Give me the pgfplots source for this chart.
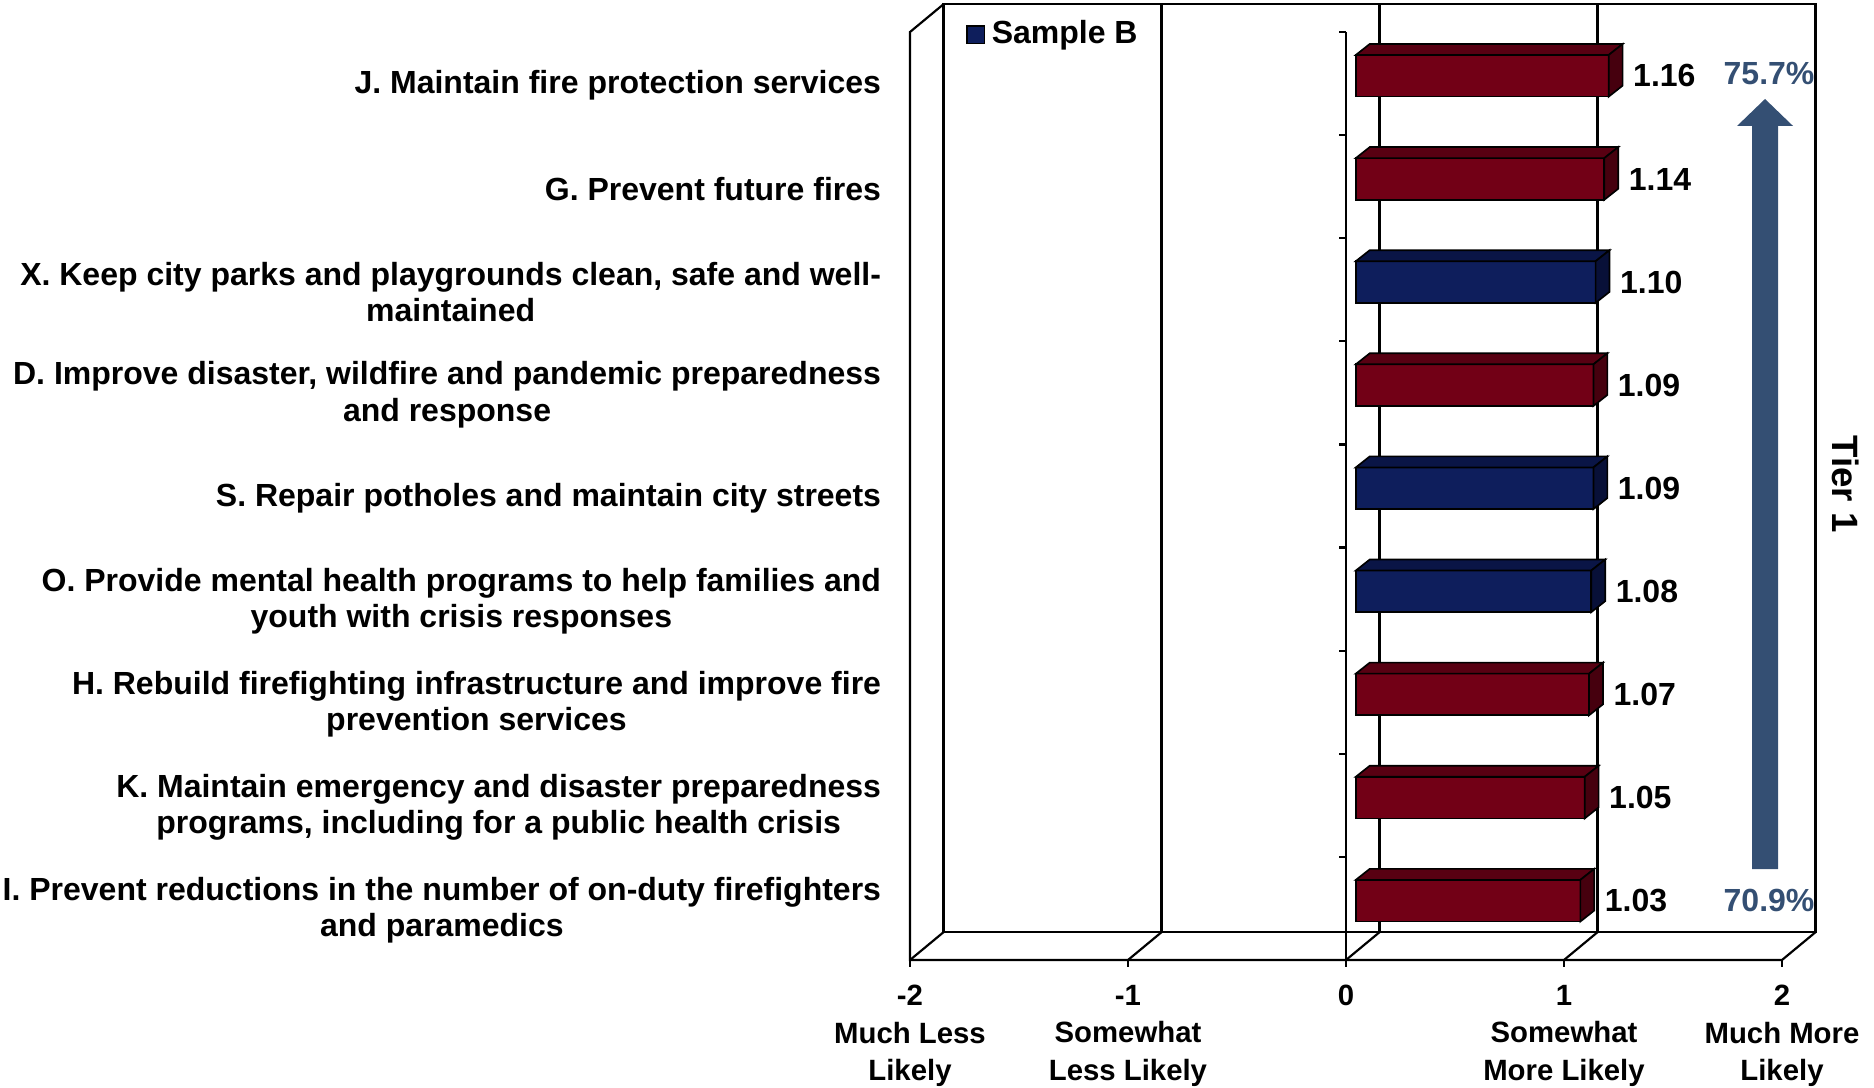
\documentclass[border=0pt]{standalone}
\usepackage{fontspec}
\setmainfont{Liberation Sans}
\usepackage{pgfplots}
\pgfplotsset{compat=1.18}

\definecolor{redfront}{RGB}{114,0,22}
\definecolor{redtop}{RGB}{88,0,18}
\definecolor{redside}{RGB}{70,0,14}
\definecolor{bluefront}{RGB}{14,30,92}
\definecolor{bluetop}{RGB}{10,21,70}
\definecolor{blueside}{RGB}{8,16,56}
\definecolor{tierblue}{RGB}{52,79,115}

\newcommand{\lblfont}{\fontsize{9.6}{10.9}\selectfont\bfseries}
\newcommand{\scalefont}{\fontsize{8.8}{11.2}\selectfont\bfseries}

% 3-D bar: #1 = category centre, #2 = value, #3 = colour prefix
\newcommand{\tdbar}[3]{%
  \pgfmathsetmacro\bxa{0.045}%
  \pgfmathsetmacro\bxb{0.045+#2}%
  \pgfmathsetmacro\bxc{0.045+#2+0.064}%
  \pgfmathsetmacro\bxd{0.045+0.064}%
  \pgfmathsetmacro\bya{#1+0.075-0.202}%
  \pgfmathsetmacro\byb{#1+0.075+0.202}%
  \pgfmathsetmacro\byc{#1+0.075-0.202+0.107}%
  \pgfmathsetmacro\byd{#1+0.075+0.202+0.107}%
  \addplot[fill=#3front, draw=black, line width=0.5pt, forget plot]
    coordinates {(\bxa,\bya) (\bxb,\bya) (\bxb,\byb) (\bxa,\byb)} -- cycle;
  \addplot[fill=#3top, draw=black, line width=0.5pt, forget plot]
    coordinates {(\bxa,\byb) (\bxb,\byb) (\bxc,\byd) (\bxd,\byd)} -- cycle;
  \addplot[fill=#3side, draw=black, line width=0.5pt, forget plot]
    coordinates {(\bxb,\bya) (\bxc,\byc) (\bxc,\byd) (\bxb,\byb)} -- cycle;
  \addplot[draw=none, mark=none, forget plot, nodes near coords,
    point meta=explicit symbolic,
    nodes near coords style={anchor=west, text=black, inner sep=0pt,
      xshift=10.1pt, yshift=2.3pt, font=\lblfont}]
    coordinates {(#2,#1) [#2]};
}

\begin{document}
\begin{tikzpicture}
\useasboundingbox (0,0) rectangle (562.2pt,326.4pt);
\begin{axis}[
    at={(273pt,38.4pt)}, anchor=south west,
    scale only axis, width=261.6pt, height=278.4pt,
    xmin=-2, xmax=2, ymin=0, ymax=9,
    clip=false,
    axis line style={draw=none},
    major tick length=0pt,
    xtick={-2,-1,0,1,2},
    xticklabels={{-2\\Much Less\\Likely},{-1\\Somewhat\\Less Likely},{0},{1\\Somewhat\\More Likely},{2\\Much More\\Likely}},
    xticklabel style={align=center, anchor=north, inner sep=0pt, yshift=-7.4pt, font=\scalefont},
    ytick={0.5,1.5,...,8.5},
    yticklabels={
      {I. Prevent reductions in the number of on-duty firefighters\\and paramedics},
      {K. Maintain emergency and disaster preparedness\\programs, including for a public health crisis},
      {H. Rebuild firefighting infrastructure and improve fire\\prevention services},
      {O. Provide mental health programs to help families and\\youth with crisis responses},
      {S. Repair potholes and maintain city streets},
      {D. Improve disaster, wildfire and pandemic preparedness\\and response},
      {X. Keep city parks and playgrounds clean, safe and well-\\maintained},
      {G. Prevent future fires},
      {J. Maintain fire protection services}},
    yticklabel style={align=center, anchor=east, inner sep=0pt, xshift=-8.5pt, yshift=-0.6pt, font=\lblfont},
    legend style={at={(0.064,0.997)}, anchor=west, draw=none, fill=none,
      inner sep=0pt, font=\lblfont},
    legend image code/.code={\draw[#1] (0pt,-2.6pt) rectangle (5.2pt,2.6pt);},
]
% back wall and grid
\draw[line width=0.65pt] (axis cs:-1.846,0.27) rectangle (axis cs:2.154,9.27);
\draw[line width=0.65pt] (axis cs:-0.846,0.27) -- (axis cs:-0.846,9.27);
\draw[line width=0.65pt] (axis cs:0.154,0.27) -- (axis cs:0.154,9.27);
\draw[line width=0.65pt] (axis cs:1.154,0.27) -- (axis cs:1.154,9.27);
% left wall and floor
\draw[line width=0.65pt] (axis cs:-1.846,9.27) -- (axis cs:-2,9) -- (axis cs:-2,0) -- (axis cs:2,0) -- (axis cs:2.154,0.27);
\draw[line width=0.65pt] (axis cs:-2,0) -- (axis cs:-1.846,0.27);
\draw[line width=0.65pt] (axis cs:-1,0) -- (axis cs:-0.846,0.27);
\draw[line width=0.65pt] (axis cs:0,0) -- (axis cs:0.154,0.27);
\draw[line width=0.65pt] (axis cs:1,0) -- (axis cs:1.154,0.27);
% front value axis and ticks
\draw[line width=0.65pt] (axis cs:0,0) -- (axis cs:0,9);
\pgfplotsinvokeforeach{0,...,9}{\draw[line width=0.65pt] (axis cs:0,#1) -- ++(-2.2pt,0pt);}
\pgfplotsinvokeforeach{-2,...,2}{\draw[line width=0.65pt] (axis cs:#1,0) -- ++(0pt,-2.1pt);}

\addlegendimage{fill=bluefront, draw=black, line width=0.4pt}
\addlegendentry{Sample B}

\tdbar{8.5}{1.16}{red}
\tdbar{7.5}{1.14}{red}
\tdbar{6.5}{1.10}{blue}
\tdbar{5.5}{1.09}{red}
\tdbar{4.5}{1.09}{blue}
\tdbar{3.5}{1.08}{blue}
\tdbar{2.5}{1.07}{red}
\tdbar{1.5}{1.05}{red}
\tdbar{0.5}{1.03}{red}
\end{axis}

\begin{scope}[x=0.3pt, y=-0.3pt, shift={(0pt,326.4pt)}]
  \fill[tierblue] (1752,869) -- (1752,126) -- (1737,126) -- (1765,99) -- (1793,126) -- (1778,126) -- (1778,869) -- cycle;
  \node[text=tierblue, font=\lblfont] at (1769,74) {75.7\%};
  \node[text=tierblue, font=\lblfont] at (1769,900) {70.9\%};
  \node[rotate=-90, font=\fontsize{11}{13}\selectfont\bfseries] at (1846,484) {Tier 1};
\end{scope}
\end{tikzpicture}
\end{document}
